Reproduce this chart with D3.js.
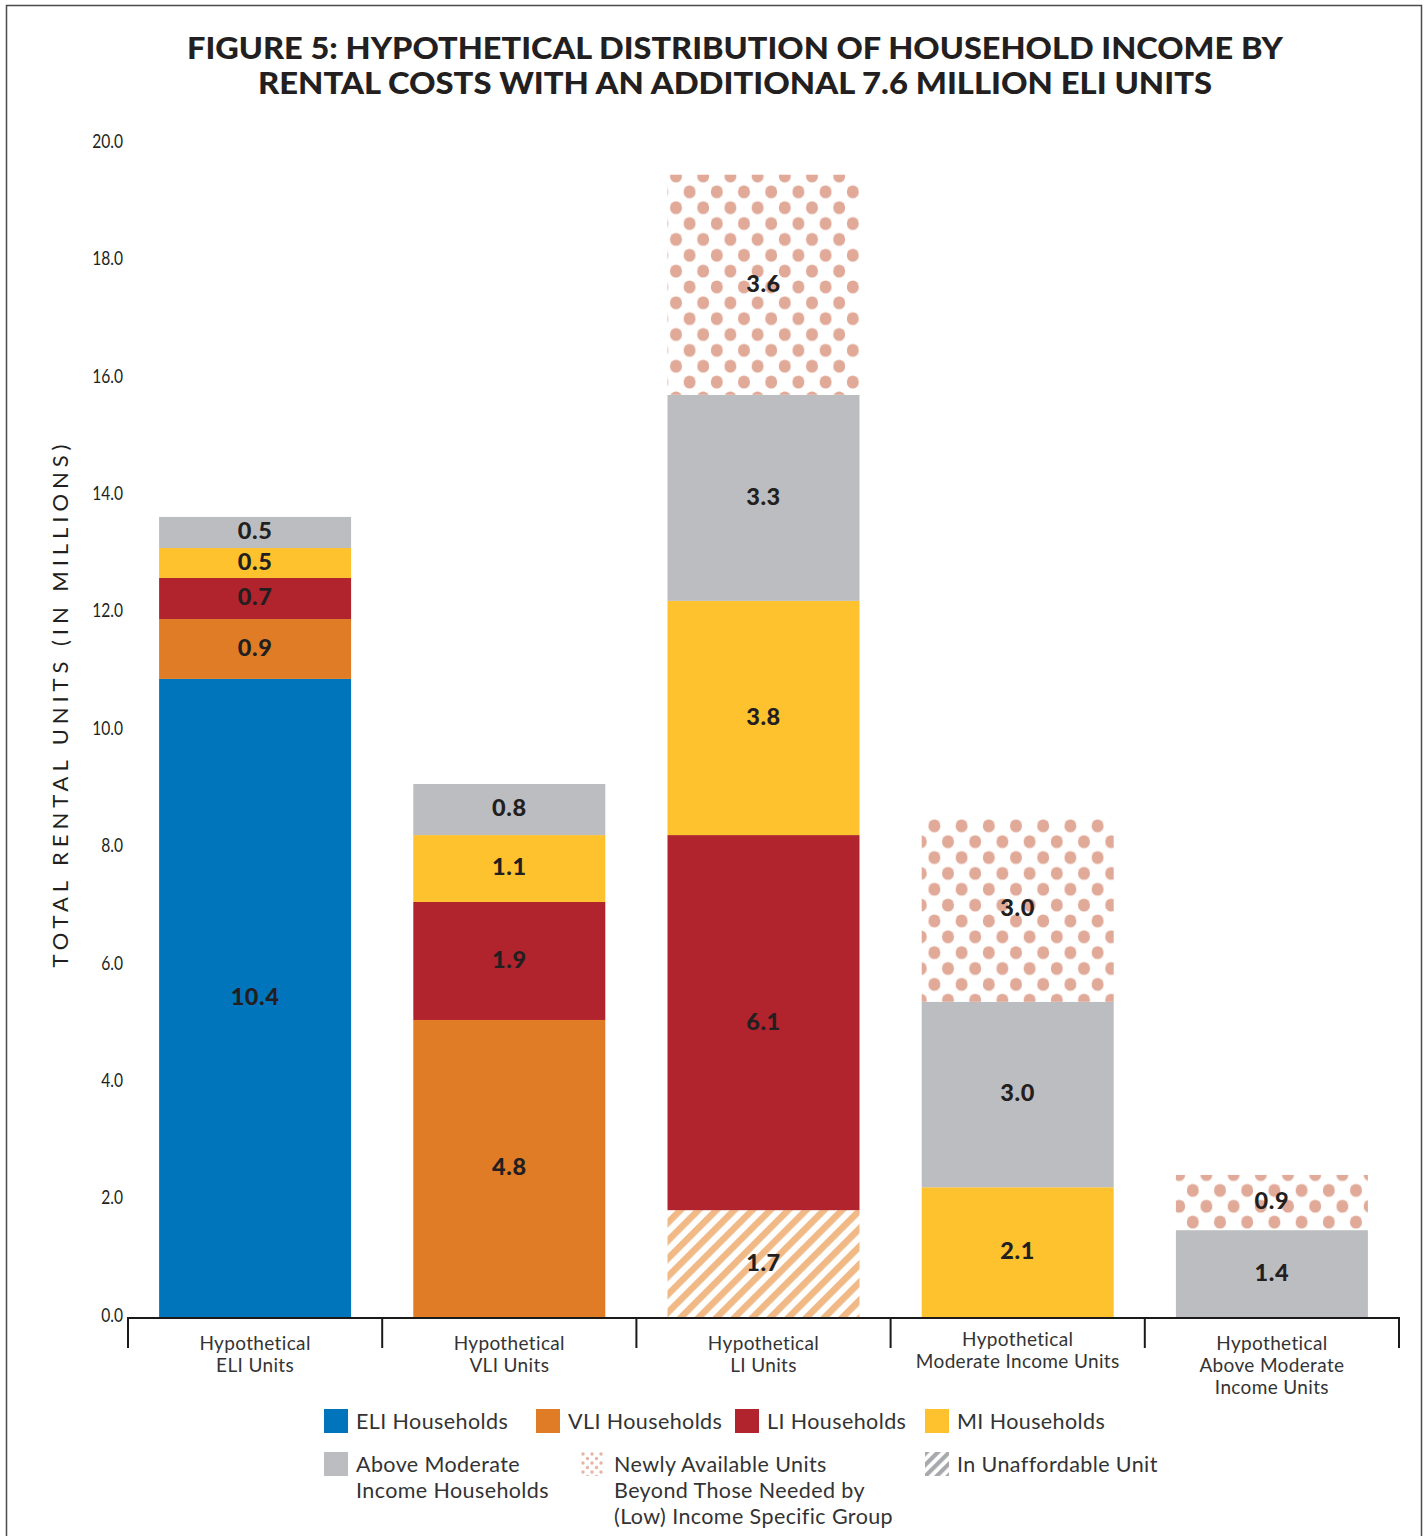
<!DOCTYPE html>
<html><head><meta charset="utf-8">
<script src="https://cdn.jsdelivr.net/npm/d3@7"></script>
<style>
body{margin:0;background:#fff;}
svg{display:block;}
</style></head><body>
<svg id="chart" width="1426" height="1536"></svg>
<script>
// ---------- DATA ----------
const titleLines = ["FIGURE 5: HYPOTHETICAL DISTRIBUTION OF HOUSEHOLD INCOME BY",
                    "RENTAL COSTS WITH AN ADDITIONAL 7.6 MILLION ELI UNITS"];
const yAxisTitle = "TOTAL RENTAL UNITS (IN MILLIONS)";
const categories = ["Hypothetical ELI Units", "Hypothetical VLI Units", "Hypothetical LI Units",
                    "Hypothetical Moderate Income Units", "Hypothetical Above Moderate Income Units"];
const categoryLines = [["Hypothetical", "ELI Units"], ["Hypothetical", "VLI Units"], ["Hypothetical", "LI Units"],
                       ["Hypothetical", "Moderate Income Units"], ["Hypothetical", "Above Moderate", "Income Units"]];
const yTickValues = [0, 2, 4, 6, 8, 10, 12, 14, 16, 18, 20];
const yTickLabels = ["0.0", "2.0", "4.0", "6.0", "8.0", "10.0", "12.0", "14.0", "16.0", "18.0", "20.0"];

// bar segment heights (millions), as drawn
const unaffordable   = [0, 0, 1.82, 0, 0];
const eliHouseholds  = [10.87, 0, 0, 0, 0];
const vliHouseholds  = [1.02, 5.06, 0, 0, 0];
const liHouseholds   = [0.70, 2.01, 6.39, 0, 0];
const miHouseholds   = [0.51, 1.14, 3.99, 2.21, 0];
const aboveModerate  = [0.53, 0.87, 3.51, 3.16, 1.48];
const newlyAvailable = [0, 0, 3.75, 3.15, 0.94];

// printed value labels
const unaffordableLabels   = ["", "", "1.7", "", ""];
const eliHouseholdsLabels  = ["10.4", "", "", "", ""];
const vliHouseholdsLabels  = ["0.9", "4.8", "", "", ""];
const liHouseholdsLabels   = ["0.7", "1.9", "6.1", "", ""];
const miHouseholdsLabels   = ["0.5", "1.1", "3.8", "2.1", ""];
const aboveModerateLabels  = ["0.5", "0.8", "3.3", "3.0", "1.4"];
const newlyAvailableLabels = ["", "", "3.6", "3.0", "0.9"];

const seriesKeys = ["unaffordable", "eli", "vli", "li", "mi", "above", "newly"];
const legendRow1 = [["eli", ["ELI Households"]], ["vli", ["VLI Households"]], ["li", ["LI Households"]], ["mi", ["MI Households"]]];
const legendRow2 = [["above", ["Above Moderate", "Income Households"]],
                    ["newly", ["Newly Available Units", "Beyond Those Needed by", "(Low) Income Specific Group"]],
                    ["unaffordable", ["In Unaffordable Unit"]]];

// ---------- BUILD ----------
const valuesByKey = {unaffordable, eli: eliHouseholds, vli: vliHouseholds, li: liHouseholds,
                     mi: miHouseholds, above: aboveModerate, newly: newlyAvailable};
const labelsByKey = {unaffordable: unaffordableLabels, eli: eliHouseholdsLabels, vli: vliHouseholdsLabels,
                     li: liHouseholdsLabels, mi: miHouseholdsLabels, above: aboveModerateLabels, newly: newlyAvailableLabels};
const table = categories.map((c, i) => {
  const row = {category: c};
  seriesKeys.forEach(k => row[k] = valuesByKey[k][i]);
  return row;
});

const fills = {unaffordable: "url(#hatch)", eli: "#0075bc", vli: "#e07c26", li: "#b2242d",
               mi: "#fdc22e", above: "#bcbdc0", newly: "url(#dots)"};
const legendFills = Object.assign({}, fills, {unaffordable: "url(#hatchLegend)", newly: "url(#dotsLegend)"});

const svg = d3.select("#chart");
const FONT = "Lato, 'Open Sans', sans-serif";

// frame
svg.append("rect").attr("x", 6.5).attr("y", 5.5).attr("width", 1415).attr("height", 1560)
  .attr("fill", "none").attr("stroke", "#4a4a4a").attr("stroke-width", 1.5);

// patterns
const defs = svg.append("defs");
const dots = defs.append("pattern").attr("id", "dots").attr("patternUnits", "userSpaceOnUse")
  .attr("width", 27.2).attr("height", 31.7).attr("patternTransform", "translate(676,176)");
dots.append("rect").attr("width", 27.2).attr("height", 31.7).attr("fill", "#fff");
[[0, 0], [27.2, 0], [0, 31.7], [27.2, 31.7], [13.6, 15.85]].forEach(([cx, cy]) =>
  dots.append("ellipse").attr("cx", cx).attr("cy", cy).attr("rx", 6).attr("ry", 6.5).attr("fill", "#e1aa98"));

const hatch = defs.append("pattern").attr("id", "hatch").attr("patternUnits", "userSpaceOnUse")
  .attr("width", 12.7).attr("height", 12.7).attr("patternTransform", "rotate(45)");
hatch.append("rect").attr("width", 12.7).attr("height", 12.7).attr("fill", "#fff");
hatch.append("rect").attr("width", 6.6).attr("height", 12.7).attr("fill", "#f0b985");

const dotsL = defs.append("pattern").attr("id", "dotsLegend").attr("patternUnits", "userSpaceOnUse")
  .attr("width", 9).attr("height", 9).attr("patternTransform", "translate(581,1452)");
dotsL.append("rect").attr("width", 9).attr("height", 9).attr("fill", "#fff");
[[2, 2], [6.5, 6.5]].forEach(([cx, cy]) =>
  dotsL.append("circle").attr("cx", cx).attr("cy", cy).attr("r", 1.7).attr("fill", "#e6b4a4"));

const hatchL = defs.append("pattern").attr("id", "hatchLegend").attr("patternUnits", "userSpaceOnUse")
  .attr("width", 8).attr("height", 8).attr("patternTransform", "rotate(45)");
hatchL.append("rect").attr("width", 8).attr("height", 8).attr("fill", "#fff");
hatchL.append("rect").attr("width", 4.2).attr("height", 8).attr("fill", "#a7a9ac");

// scales
const x = d3.scaleBand().domain(categories).range([128, 1399]).paddingInner(0.2447).paddingOuter(0.12235);
const y = d3.scaleLinear().domain([0, 20]).range([1317, 143]);

// title
const titleWidths = [1096, 954];
titleLines.forEach((t, i) => {
  svg.append("text").attr("x", 735).attr("y", 59 + i * 34.5).attr("text-anchor", "middle")
    .attr("font-family", FONT).attr("font-weight", 900).attr("font-size", 29.5)
    .attr("textLength", titleWidths[i]).attr("lengthAdjust", "spacingAndGlyphs")
    .attr("fill", "#231f20").text(t);
});

// y axis
const yAxis = svg.append("g").attr("transform", "translate(128,0)")
  .call(d3.axisLeft(y).tickValues(yTickValues).tickSize(0).tickPadding(5)
        .tickFormat((d, i) => yTickLabels[i]));
yAxis.select(".domain").remove();
yAxis.selectAll("text").attr("font-family", FONT)
  .attr("font-size", 19.5).attr("fill", "#231f20").attr("dy", "0.22em")
  .each(function () {
    const w = this.getComputedTextLength();
    d3.select(this).attr("textLength", w * 0.8).attr("lengthAdjust", "spacingAndGlyphs");
  });

svg.append("text").attr("transform", "translate(68,706) rotate(-90)").attr("text-anchor", "middle")
  .attr("font-family", FONT).attr("font-size", 22).attr("fill", "#231f20")
  .attr("textLength", 523).attr("lengthAdjust", "spacing").text(yAxisTitle);

// stacked bars
const stack = d3.stack().keys(seriesKeys)(table);
const layers = svg.append("g").selectAll("g").data(stack).join("g")
  .attr("fill", d => fills[d.key]);
layers.selectAll("rect").data(d => d.map((s, i) => ({s, i}))).join("rect")
  .attr("x", d => x(categories[d.i]))
  .attr("width", x.bandwidth())
  .attr("y", d => y(d.s[1]))
  .attr("height", d => Math.max(0, y(d.s[0]) - y(d.s[1])));

// value labels
const labelData = [];
stack.forEach(layer => layer.forEach((s, i) => {
  const lab = labelsByKey[layer.key][i];
  if (lab && s[1] > s[0]) labelData.push({x: x(categories[i]) + x.bandwidth() / 2, y: y((s[0] + s[1]) / 2), lab});
}));
svg.append("g").selectAll("text").data(labelData).join("text")
  .attr("x", d => d.x).attr("y", d => d.y - 1.5).attr("dy", "0.36em").attr("text-anchor", "middle")
  .attr("font-family", FONT).attr("font-weight", 900).attr("font-size", 23.5).attr("fill", "#231f20")
  .attr("letter-spacing", 0.6)
  .text(d => d.lab);

// x axis
const xAxisG = svg.append("g");
xAxisG.append("line").attr("x1", 128).attr("x2", 1399).attr("y1", 1318).attr("y2", 1318)
  .attr("stroke", "#1a1a1a").attr("stroke-width", 2);
const bounds = categories.map(c => x(c) - x.step() * x.paddingInner() / 2).concat([1399]);
bounds[0] = 128;
xAxisG.selectAll("line.tick").data(bounds).join("line").attr("class", "tick")
  .attr("x1", d => d).attr("x2", d => d).attr("y1", 1317).attr("y2", 1348)
  .attr("stroke", "#1a1a1a").attr("stroke-width", 2);
categoryLines.forEach((lines, i) => {
  const cx = x(categories[i]) + x.bandwidth() / 2;
  const y0 = lines.length === 2 && lines[1].length > 15 ? 1339 : 1343;
  lines.forEach((l, j) => {
    xAxisG.append("text").attr("x", cx).attr("y", y0 + j * 22).attr("dy", "0.35em")
      .attr("text-anchor", "middle").attr("font-family", FONT).attr("font-size", 19)
      .attr("letter-spacing", 0.35).attr("fill", "#333").text(l);
  });
});

// legend
const legend = svg.append("g");
const row1X = [324, 536, 735, 925];
legendRow1.forEach(([k, lines], i) => {
  legend.append("rect").attr("x", row1X[i]).attr("y", 1409).attr("width", 24).attr("height", 24).attr("fill", legendFills[k]);
  legend.append("text").attr("x", row1X[i] + 32).attr("y", 1421).attr("dy", "0.35em")
    .attr("font-family", FONT).attr("font-size", 21.5).attr("letter-spacing", 0.4)
    .attr("fill", "#333").text(lines[0]);
});
const row2X = [324, 580, 925];
legendRow2.forEach(([k, lines], i) => {
  legend.append("rect").attr("x", row2X[i]).attr("y", 1452).attr("width", 24).attr("height", 24).attr("fill", legendFills[k]);
  lines.forEach((l, j) => {
    legend.append("text").attr("x", row2X[i] + (i === 1 ? 34 : 32)).attr("y", 1464 + j * 26).attr("dy", "0.35em")
      .attr("font-family", FONT).attr("font-size", 21.5).attr("letter-spacing", 0.4)
      .attr("fill", "#333").text(l);
  });
});
</script>
</body></html>
